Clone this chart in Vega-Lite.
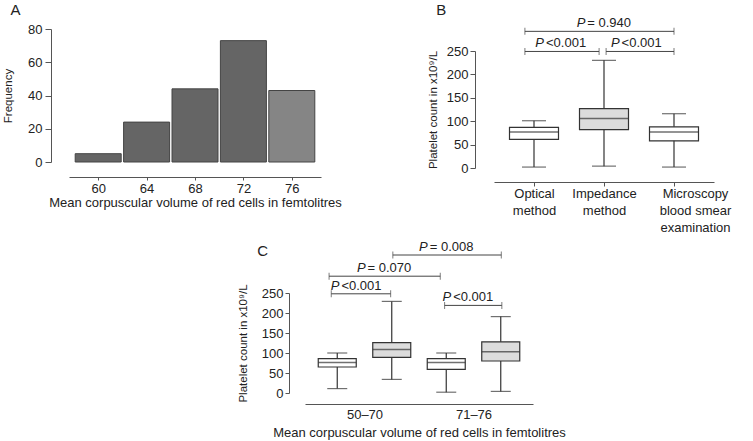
{
  "$schema": "https://vega.github.io/schema/vega-lite/v6.json",
  "background": "white",
  "padding": {"left": 2, "top": -4, "right": 2, "bottom": 2},
  "config": {
    "font": "Liberation Sans",
    "view": {"stroke": null},
    "axis": {
      "grid": false,
      "labelFont": "Liberation Sans",
      "labelFontSize": 13,
      "labelColor": "#222",
      "labelOverlap": false,
      "domainColor": "#555",
      "tickColor": "#555",
      "titleFontWeight": "normal",
      "titleFontSize": 13,
      "titleColor": "#222",
      "titleFont": "Liberation Sans"
    },
    "axisY": {"titleFontSize": 11.5},
    "title": {"fontSize": 15, "fontWeight": "normal", "anchor": "start", "frame": "bounds", "color": "#222"}
  },
  "datasets": {
    "hist": [
      {"mcv": 60, "frequency": 5},
      {"mcv": 64, "frequency": 24},
      {"mcv": 68, "frequency": 44},
      {"mcv": 72, "frequency": 73},
      {"mcv": 76, "frequency": 43}
    ],
    "boxB": [
      {"pos": 1, "method": "Optical", "low": 2, "q1": 61, "median": 77, "q3": 87, "high": 101},
      {"pos": 2, "method": "Impedance", "low": 4, "q1": 82, "median": 106, "q3": 127, "high": 230},
      {"pos": 3, "method": "Microscopy", "low": 2, "q1": 58, "median": 77, "q3": 88, "high": 116}
    ],
    "brB": [
      {"from": 0.87, "to": 3.0, "mid": 1.99, "level": 292, "stat": "P", "label": "= 0.940"},
      {"from": 0.87, "to": 1.93, "mid": 1.4, "level": 249, "stat": "P", "label": "\u00a0<0.001"},
      {"from": 2.03, "to": 3.0, "mid": 2.48, "level": 249, "stat": "P", "label": "\u00a0<0.001"}
    ],
    "boxC": [
      {"pos": 1, "group": "50–70", "method": "Optical", "low": 11, "q1": 65, "median": 76, "q3": 86, "high": 100},
      {"pos": 2, "group": "50–70", "method": "Impedance", "low": 34, "q1": 89, "median": 109, "q3": 126, "high": 229},
      {"pos": 3, "group": "71–76", "method": "Optical", "low": 2, "q1": 59, "median": 76, "q3": 86, "high": 100},
      {"pos": 4, "group": "71–76", "method": "Impedance", "low": 4, "q1": 80, "median": 103, "q3": 128, "high": 191}
    ],
    "brC": [
      {"from": 2.02, "to": 4.01, "mid": 2.99, "level": 345, "stat": "P", "label": "= 0.008"},
      {"from": 0.85, "to": 2.89, "mid": 1.85, "level": 292, "stat": "P", "label": "= 0.070"},
      {"from": 0.89, "to": 1.98, "mid": 1.37, "level": 248, "stat": "P", "label": "\u00a0<0.001"},
      {"from": 2.97, "to": 4.02, "mid": 3.42, "level": 219, "stat": "P", "label": "\u00a0<0.001"}
    ]
  },
  "spacing": 7,
  "vconcat": [
    {
      "spacing": 85,
      "hconcat": [
        {
          "spacing": 0,
          "vconcat": [
            {"width": 1, "height": 1, "data": {"values": [{}]}, "mark": {"type": "point", "opacity": 0}, "encoding": {}},
            {
              "title": {"text": "A", "dx": 8, "offset": 5},
              "width": 252,
              "height": 133,
              "data": {"name": "hist"},
              "mark": {"type": "bar", "orient": "vertical", "width": 46, "stroke": "#444", "strokeWidth": 1},
              "encoding": {
                "x": {
                  "field": "mcv", "type": "quantitative",
                  "scale": {"domain": [58, 78], "nice": false, "zero": false},
                  "axis": {"values": [60, 64, 68, 72, 76], "offset": 15, "tickSize": 3, "labelPadding": 2, "titlePadding": 1,
                           "title": "Mean corpuscular volume of red cells in femtolitres"}
                },
                "y": {
                  "field": "frequency", "type": "quantitative",
                  "scale": {"domain": [0, 80], "nice": false},
                  "axis": {"values": [0, 20, 40, 60, 80], "offset": 18, "tickSize": 6, "labelPadding": 3, "titlePadding": 14, "title": "Frequency"}
                },
                "fill": {"condition": {"test": "datum.mcv === 76", "value": "#858585"}, "value": "#656565"}
              }
            }
          ]
        },
        {
          "spacing": 0,
          "vconcat": [
            {"width": 1, "height": 1, "data": {"values": [{}]}, "mark": {"type": "point", "opacity": 0}, "encoding": {}},
            {
              "title": {"text": "B", "dx": 9, "offset": -1},
              "width": 220,
              "height": 117,
              "layer": [
                {
                  "data": {"name": "boxB"},
                  "mark": {"type": "rule", "color": "#333", "strokeWidth": 1.2},
                  "encoding": {
                    "x": {"field": "pos", "type": "quantitative", "scale": {"domain": [0.5, 3.5], "nice": false, "zero": false},
                          "axis": {"values": [1, 2, 3], "offset": 14, "tickSize": 4, "labelPadding": 1, "labelLineHeight": 17, "title": null,
                                   "labelExpr": "datum.value == 1 ? ['Optical', 'method'] : datum.value == 2 ? ['Impedance', 'method'] : ['Microscopy', 'blood smear', 'examination']",
                                   "labelOffset": {"condition": {"test": "datum.value == 3", "value": 21}, "value": 0}}},
                    "y": {"field": "low", "type": "quantitative", "scale": {"domain": [0, 250], "nice": false},
                          "axis": {"values": [0, 50, 100, 150, 200, 250], "offset": 19, "tickSize": 5, "labelPadding": 2, "titlePadding": 8, "title": "Platelet count in x10⁹/L"}},
                    "y2": {"field": "high"}
                  }
                },
                {
                  "data": {"name": "boxB"},
                  "mark": {"type": "bar", "orient": "vertical", "width": 49, "stroke": "#333", "strokeWidth": 1.2},
                  "encoding": {
                    "x": {"field": "pos", "type": "quantitative", "scale": {"domain": [0.5, 3.5], "nice": false, "zero": false}},
                    "y": {"field": "q1", "type": "quantitative", "scale": {"domain": [0, 250], "nice": false},
                          "axis": {"values": [0, 50, 100, 150, 200, 250], "offset": 19, "tickSize": 5, "labelPadding": 2, "titlePadding": 8, "title": "Platelet count in x10⁹/L"}},
                    "y2": {"field": "q3"},
                    "fill": {"condition": {"test": "datum.method === 'Impedance'", "value": "#dcdcdc"}, "value": "white"}
                  }
                },
                {
                  "data": {"name": "boxB"},
                  "mark": {"type": "tick", "orient": "horizontal", "size": 49, "thickness": 1.5, "color": "#333"},
                  "encoding": {
                    "x": {"field": "pos", "type": "quantitative", "scale": {"domain": [0.5, 3.5], "nice": false, "zero": false}},
                    "y": {"field": "median", "type": "quantitative", "scale": {"domain": [0, 250], "nice": false},
                          "axis": {"values": [0, 50, 100, 150, 200, 250], "offset": 19, "tickSize": 5, "labelPadding": 2, "titlePadding": 8, "title": "Platelet count in x10⁹/L"}}
                  }
                },
                {
                  "data": {"name": "boxB"},
                  "mark": {"type": "tick", "orient": "horizontal", "size": 24, "thickness": 1.2, "color": "#333"},
                  "encoding": {
                    "x": {"field": "pos", "type": "quantitative", "scale": {"domain": [0.5, 3.5], "nice": false, "zero": false}},
                    "y": {"field": "low", "type": "quantitative", "scale": {"domain": [0, 250], "nice": false},
                          "axis": {"values": [0, 50, 100, 150, 200, 250], "offset": 19, "tickSize": 5, "labelPadding": 2, "titlePadding": 8, "title": "Platelet count in x10⁹/L"}}
                  }
                },
                {
                  "data": {"name": "boxB"},
                  "mark": {"type": "tick", "orient": "horizontal", "size": 24, "thickness": 1.2, "color": "#333"},
                  "encoding": {
                    "x": {"field": "pos", "type": "quantitative", "scale": {"domain": [0.5, 3.5], "nice": false, "zero": false}},
                    "y": {"field": "high", "type": "quantitative", "scale": {"domain": [0, 250], "nice": false},
                          "axis": {"values": [0, 50, 100, 150, 200, 250], "offset": 19, "tickSize": 5, "labelPadding": 2, "titlePadding": 8, "title": "Platelet count in x10⁹/L"}}
                  }
                },
                {
                  "data": {"name": "brB"},
                  "mark": {"type": "rule", "color": "#444", "strokeWidth": 1, "clip": false},
                  "encoding": {
                    "x": {"field": "from", "type": "quantitative", "scale": {"domain": [0.5, 3.5], "nice": false, "zero": false}},
                    "x2": {"field": "to"},
                    "y": {"field": "level", "type": "quantitative", "scale": {"domain": [0, 250], "nice": false},
                          "axis": {"values": [0, 50, 100, 150, 200, 250], "offset": 19, "tickSize": 5, "labelPadding": 2, "titlePadding": 8, "title": "Platelet count in x10⁹/L"}}
                  }
                },
                {
                  "data": {"name": "brB"},
                  "mark": {"type": "tick", "orient": "vertical", "size": 7, "thickness": 1, "color": "#444", "clip": false},
                  "encoding": {
                    "x": {"field": "from", "type": "quantitative", "scale": {"domain": [0.5, 3.5], "nice": false, "zero": false}},
                    "y": {"field": "level", "type": "quantitative", "scale": {"domain": [0, 250], "nice": false},
                          "axis": {"values": [0, 50, 100, 150, 200, 250], "offset": 19, "tickSize": 5, "labelPadding": 2, "titlePadding": 8, "title": "Platelet count in x10⁹/L"}}
                  }
                },
                {
                  "data": {"name": "brB"},
                  "mark": {"type": "tick", "orient": "vertical", "size": 7, "thickness": 1, "color": "#444", "clip": false},
                  "encoding": {
                    "x": {"field": "to", "type": "quantitative", "scale": {"domain": [0.5, 3.5], "nice": false, "zero": false}},
                    "y": {"field": "level", "type": "quantitative", "scale": {"domain": [0, 250], "nice": false},
                          "axis": {"values": [0, 50, 100, 150, 200, 250], "offset": 19, "tickSize": 5, "labelPadding": 2, "titlePadding": 8, "title": "Platelet count in x10⁹/L"}}
                  }
                },
                {
                  "data": {"name": "brB"},
                  "mark": {"type": "text", "align": "right", "baseline": "alphabetic", "dx": -18, "dy": -4, "fontSize": 13, "fontStyle": "italic", "color": "#222", "clip": false},
                  "encoding": {
                    "x": {"field": "mid", "type": "quantitative", "scale": {"domain": [0.5, 3.5], "nice": false, "zero": false}},
                    "y": {"field": "level", "type": "quantitative", "scale": {"domain": [0, 250], "nice": false},
                          "axis": {"values": [0, 50, 100, 150, 200, 250], "offset": 19, "tickSize": 5, "labelPadding": 2, "titlePadding": 8, "title": "Platelet count in x10⁹/L"}},
                    "text": {"field": "stat"}
                  }
                },
                {
                  "data": {"name": "brB"},
                  "mark": {"type": "text", "align": "left", "baseline": "alphabetic", "dx": -16, "dy": -4, "fontSize": 13, "color": "#222", "clip": false},
                  "encoding": {
                    "x": {"field": "mid", "type": "quantitative", "scale": {"domain": [0.5, 3.5], "nice": false, "zero": false}},
                    "y": {"field": "level", "type": "quantitative", "scale": {"domain": [0, 250], "nice": false},
                          "axis": {"values": [0, 50, 100, 150, 200, 250], "offset": 19, "tickSize": 5, "labelPadding": 2, "titlePadding": 8, "title": "Platelet count in x10⁹/L"}},
                    "text": {"field": "label"}
                  }
                }
              ]
            }
          ]
        }
      ]
    },
    {
      "spacing": 0,
      "hconcat": [
        {
          "width": 168,
          "height": 10,
          "data": {"values": [{}]},
          "mark": {"type": "point", "opacity": 0},
          "encoding": {}
        },
        {
          "title": {"text": "C", "dx": 20, "dy": 18, "offset": 0},
          "width": 228,
          "height": 100,
          "layer": [
            {
              "data": {"name": "boxC"},
              "mark": {"type": "rule", "color": "#333", "strokeWidth": 1.2},
              "encoding": {
                "x": {"field": "pos", "type": "quantitative", "scale": {"domain": [0.5, 4.5], "nice": false, "zero": false},
                      "axis": {"values": [1.5, 3.5], "offset": 11, "ticks": false, "labelPadding": 4, "titlePadding": 5,
                               "labelExpr": "datum.value == 1.5 ? '50–70' : '71–76'",
                               "title": "Mean corpuscular volume of red cells in femtolitres"}},
                "y": {"field": "low", "type": "quantitative", "scale": {"domain": [0, 250], "nice": false},
                      "axis": {"values": [0, 50, 100, 150, 200, 250], "offset": 16, "tickSize": 4, "labelPadding": 2, "titlePadding": 13, "title": "Platelet count in x10⁹/L"}},
                "y2": {"field": "high"}
              }
            },
            {
              "data": {"name": "boxC"},
              "mark": {"type": "bar", "orient": "vertical", "width": 38, "stroke": "#333", "strokeWidth": 1.2},
              "encoding": {
                "x": {"field": "pos", "type": "quantitative", "scale": {"domain": [0.5, 4.5], "nice": false, "zero": false}},
                "y": {"field": "q1", "type": "quantitative", "scale": {"domain": [0, 250], "nice": false},
                      "axis": {"values": [0, 50, 100, 150, 200, 250], "offset": 16, "tickSize": 4, "labelPadding": 2, "titlePadding": 13, "title": "Platelet count in x10⁹/L"}},
                "y2": {"field": "q3"},
                "fill": {"condition": {"test": "datum.method === 'Impedance'", "value": "#dcdcdc"}, "value": "white"}
              }
            },
            {
              "data": {"name": "boxC"},
              "mark": {"type": "tick", "orient": "horizontal", "size": 38, "thickness": 1.5, "color": "#333"},
              "encoding": {
                "x": {"field": "pos", "type": "quantitative", "scale": {"domain": [0.5, 4.5], "nice": false, "zero": false}},
                "y": {"field": "median", "type": "quantitative", "scale": {"domain": [0, 250], "nice": false},
                      "axis": {"values": [0, 50, 100, 150, 200, 250], "offset": 16, "tickSize": 4, "labelPadding": 2, "titlePadding": 13, "title": "Platelet count in x10⁹/L"}}
              }
            },
            {
              "data": {"name": "boxC"},
              "mark": {"type": "tick", "orient": "horizontal", "size": 20, "thickness": 1.2, "color": "#333"},
              "encoding": {
                "x": {"field": "pos", "type": "quantitative", "scale": {"domain": [0.5, 4.5], "nice": false, "zero": false}},
                "y": {"field": "low", "type": "quantitative", "scale": {"domain": [0, 250], "nice": false},
                      "axis": {"values": [0, 50, 100, 150, 200, 250], "offset": 16, "tickSize": 4, "labelPadding": 2, "titlePadding": 13, "title": "Platelet count in x10⁹/L"}}
              }
            },
            {
              "data": {"name": "boxC"},
              "mark": {"type": "tick", "orient": "horizontal", "size": 20, "thickness": 1.2, "color": "#333"},
              "encoding": {
                "x": {"field": "pos", "type": "quantitative", "scale": {"domain": [0.5, 4.5], "nice": false, "zero": false}},
                "y": {"field": "high", "type": "quantitative", "scale": {"domain": [0, 250], "nice": false},
                      "axis": {"values": [0, 50, 100, 150, 200, 250], "offset": 16, "tickSize": 4, "labelPadding": 2, "titlePadding": 13, "title": "Platelet count in x10⁹/L"}}
              }
            },
            {
              "data": {"name": "brC"},
              "mark": {"type": "rule", "color": "#444", "strokeWidth": 1, "clip": false},
              "encoding": {
                "x": {"field": "from", "type": "quantitative", "scale": {"domain": [0.5, 4.5], "nice": false, "zero": false}},
                "x2": {"field": "to"},
                "y": {"field": "level", "type": "quantitative", "scale": {"domain": [0, 250], "nice": false},
                      "axis": {"values": [0, 50, 100, 150, 200, 250], "offset": 16, "tickSize": 4, "labelPadding": 2, "titlePadding": 13, "title": "Platelet count in x10⁹/L"}}
              }
            },
            {
              "data": {"name": "brC"},
              "mark": {"type": "tick", "orient": "vertical", "size": 7, "thickness": 1, "color": "#444", "clip": false},
              "encoding": {
                "x": {"field": "from", "type": "quantitative", "scale": {"domain": [0.5, 4.5], "nice": false, "zero": false}},
                "y": {"field": "level", "type": "quantitative", "scale": {"domain": [0, 250], "nice": false},
                      "axis": {"values": [0, 50, 100, 150, 200, 250], "offset": 16, "tickSize": 4, "labelPadding": 2, "titlePadding": 13, "title": "Platelet count in x10⁹/L"}}
              }
            },
            {
              "data": {"name": "brC"},
              "mark": {"type": "tick", "orient": "vertical", "size": 7, "thickness": 1, "color": "#444", "clip": false},
              "encoding": {
                "x": {"field": "to", "type": "quantitative", "scale": {"domain": [0.5, 4.5], "nice": false, "zero": false}},
                "y": {"field": "level", "type": "quantitative", "scale": {"domain": [0, 250], "nice": false},
                      "axis": {"values": [0, 50, 100, 150, 200, 250], "offset": 16, "tickSize": 4, "labelPadding": 2, "titlePadding": 13, "title": "Platelet count in x10⁹/L"}}
              }
            },
            {
              "data": {"name": "brC"},
              "mark": {"type": "text", "align": "right", "baseline": "alphabetic", "dx": -18, "dy": -4, "fontSize": 13, "fontStyle": "italic", "color": "#222", "clip": false},
              "encoding": {
                "x": {"field": "mid", "type": "quantitative", "scale": {"domain": [0.5, 4.5], "nice": false, "zero": false}},
                "y": {"field": "level", "type": "quantitative", "scale": {"domain": [0, 250], "nice": false},
                      "axis": {"values": [0, 50, 100, 150, 200, 250], "offset": 16, "tickSize": 4, "labelPadding": 2, "titlePadding": 13, "title": "Platelet count in x10⁹/L"}},
                "text": {"field": "stat"}
              }
            },
            {
              "data": {"name": "brC"},
              "mark": {"type": "text", "align": "left", "baseline": "alphabetic", "dx": -16, "dy": -4, "fontSize": 13, "color": "#222", "clip": false},
              "encoding": {
                "x": {"field": "mid", "type": "quantitative", "scale": {"domain": [0.5, 4.5], "nice": false, "zero": false}},
                "y": {"field": "level", "type": "quantitative", "scale": {"domain": [0, 250], "nice": false},
                      "axis": {"values": [0, 50, 100, 150, 200, 250], "offset": 16, "tickSize": 4, "labelPadding": 2, "titlePadding": 13, "title": "Platelet count in x10⁹/L"}},
                "text": {"field": "label"}
              }
            }
          ]
        }
      ]
    }
  ]
}
